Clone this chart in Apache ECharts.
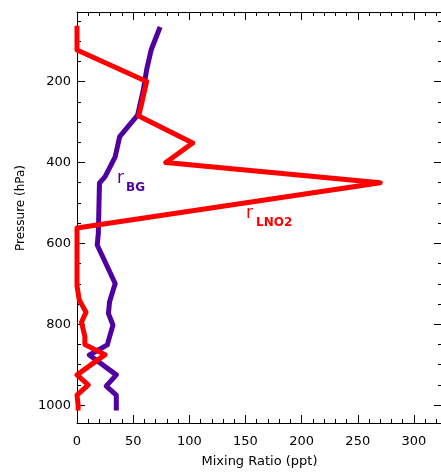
<!DOCTYPE html>
<html>
<head>
<meta charset="utf-8">
<script src="https://cdn.jsdelivr.net/npm/echarts@6/dist/echarts.min.js"></script>
<style>
  html, body { margin: 0; padding: 0; background: #fff; }
  #chart { width: 441px; height: 474px; }
</style>
</head>
<body>
<div id="chart"></div>
<script>
// background mixing ratio profile (ppt) vs pressure (hPa)
const bgRatio = [74, 66, 62, 59, 54, 38, 34, 25, 20, 19, 18, 34, 29, 28, 32, 29, 27, 11, 35, 26, 35, 35];
const bgPressure = [65, 122, 171, 221, 283, 336, 386, 435, 451, 575, 604, 699, 744, 773, 802, 831, 851, 876, 925, 953, 975, 1013];

// lightning NO2 profile
const lno2Ratio = [0, 0, 62, 55, 103, 79, 270, 0, 0, 2, 8, 4, 7, 7, 25, 0, 10, 0, 1, 1];
const lno2Pressure = [62, 122, 200, 285, 352, 400, 450, 562, 705, 740, 770, 795, 830, 850, 875, 925, 950, 975, 1000, 1013];

const xRange = [0, 325];
const yRange = [28, 1044];

const FONT = "DejaVu Sans";

function pairs(xs, ys) {
  return xs.map((v, i) => [v, ys[i]]);
}

let chart = echarts.init(document.getElementById("chart"), null, {
  renderer: "canvas",
});

const tickStyle = { color: "#000", width: 1 };

// shared frame settings, ticks point inward like the original plot
function frameAxis(extra) {
  return Object.assign(
    {
      type: "value",
      axisLine: { onZero: false, lineStyle: tickStyle },
      axisTick: { inside: true, length: 8, lineStyle: tickStyle },
      splitLine: { show: false },
    },
    extra
  );
}

let option = {
  animation: false,
  backgroundColor: "#fff",
  grid: {
    left: 77,
    right: -1,
    top: 12,
    bottom: 51,
    outerBoundsMode: "none",
  },
  xAxis: [
    frameAxis({
      position: "bottom",
      min: xRange[0],
      max: xRange[1],
      interval: 50,
      minorTick: { show: true, splitNumber: 5, length: 4, lineStyle: tickStyle },
      axisLabel: {
        color: "#000",
        fontFamily: FONT,
        fontSize: 13,
        margin: 12,
        showMaxLabel: false,
      },
      name: "Mixing Ratio (ppt)",
      nameLocation: "middle",
      nameGap: 32,
      nameTextStyle: { color: "#000", fontFamily: FONT, fontSize: 13 },
    }),
    frameAxis({
      position: "top",
      min: xRange[0],
      max: xRange[1],
      interval: 50,
      minorTick: { show: true, splitNumber: 5, length: 4, lineStyle: tickStyle },
      axisLabel: { show: false },
    }),
  ],
  yAxis: [
    frameAxis({
      position: "left",
      inverse: true,
      min: yRange[0],
      max: yRange[1],
      minorTick: { show: true, splitNumber: 4, length: 4, lineStyle: tickStyle },
      axisLabel: {
        color: "#000",
        fontFamily: FONT,
        fontSize: 13,
        margin: 6,
        showMinLabel: false,
        showMaxLabel: false,
        formatter: (v) => String(v),
      },
    }),
    frameAxis({
      position: "right",
      inverse: true,
      min: yRange[0],
      max: yRange[1],
      minorTick: { show: true, splitNumber: 4, length: 4, lineStyle: tickStyle },
      axisLabel: { show: false },
    }),
  ],
  series: [
    {
      name: "BG",
      type: "line",
      xAxisIndex: 0,
      yAxisIndex: 0,
      data: pairs(bgRatio, bgPressure),
      showSymbol: false,
      symbol: "none",
      clip: false,
      lineStyle: { color: "#5000a0", width: 5, join: "round", cap: "butt" },
    },
    {
      name: "LNO2",
      type: "line",
      xAxisIndex: 0,
      yAxisIndex: 0,
      data: pairs(lno2Ratio, lno2Pressure),
      showSymbol: false,
      symbol: "none",
      clip: false,
      lineStyle: { color: "#ff0000", width: 5, join: "round", cap: "butt" },
    },
  ],
  graphic: [
    {
      type: "text",
      x: 21,
      y: 208,
      rotation: Math.PI / 2,
      style: {
        text: "Pressure (hPa)",
        fill: "#000",
        font: "12px " + FONT,
        textAlign: "center",
        textVerticalAlign: "middle",
      },
    },
    // r_BG label
    {
      type: "text",
      left: 117,
      top: 170,
      style: { text: "r", fill: "#5000a0", font: "17px " + FONT },
    },
    {
      type: "text",
      left: 126,
      top: 182,
      style: { text: "BG", fill: "#5000a0", font: "bold 12px " + FONT },
    },
    // r_LNO2 label
    {
      type: "text",
      left: 246,
      top: 205,
      style: { text: "r", fill: "#ff0000", font: "17px " + FONT },
    },
    {
      type: "text",
      left: 256,
      top: 217,
      style: { text: "LNO2", fill: "#ff0000", font: "bold 12px " + FONT },
    },
  ],
};
option && chart.setOption(option);
</script>
</body>
</html>
